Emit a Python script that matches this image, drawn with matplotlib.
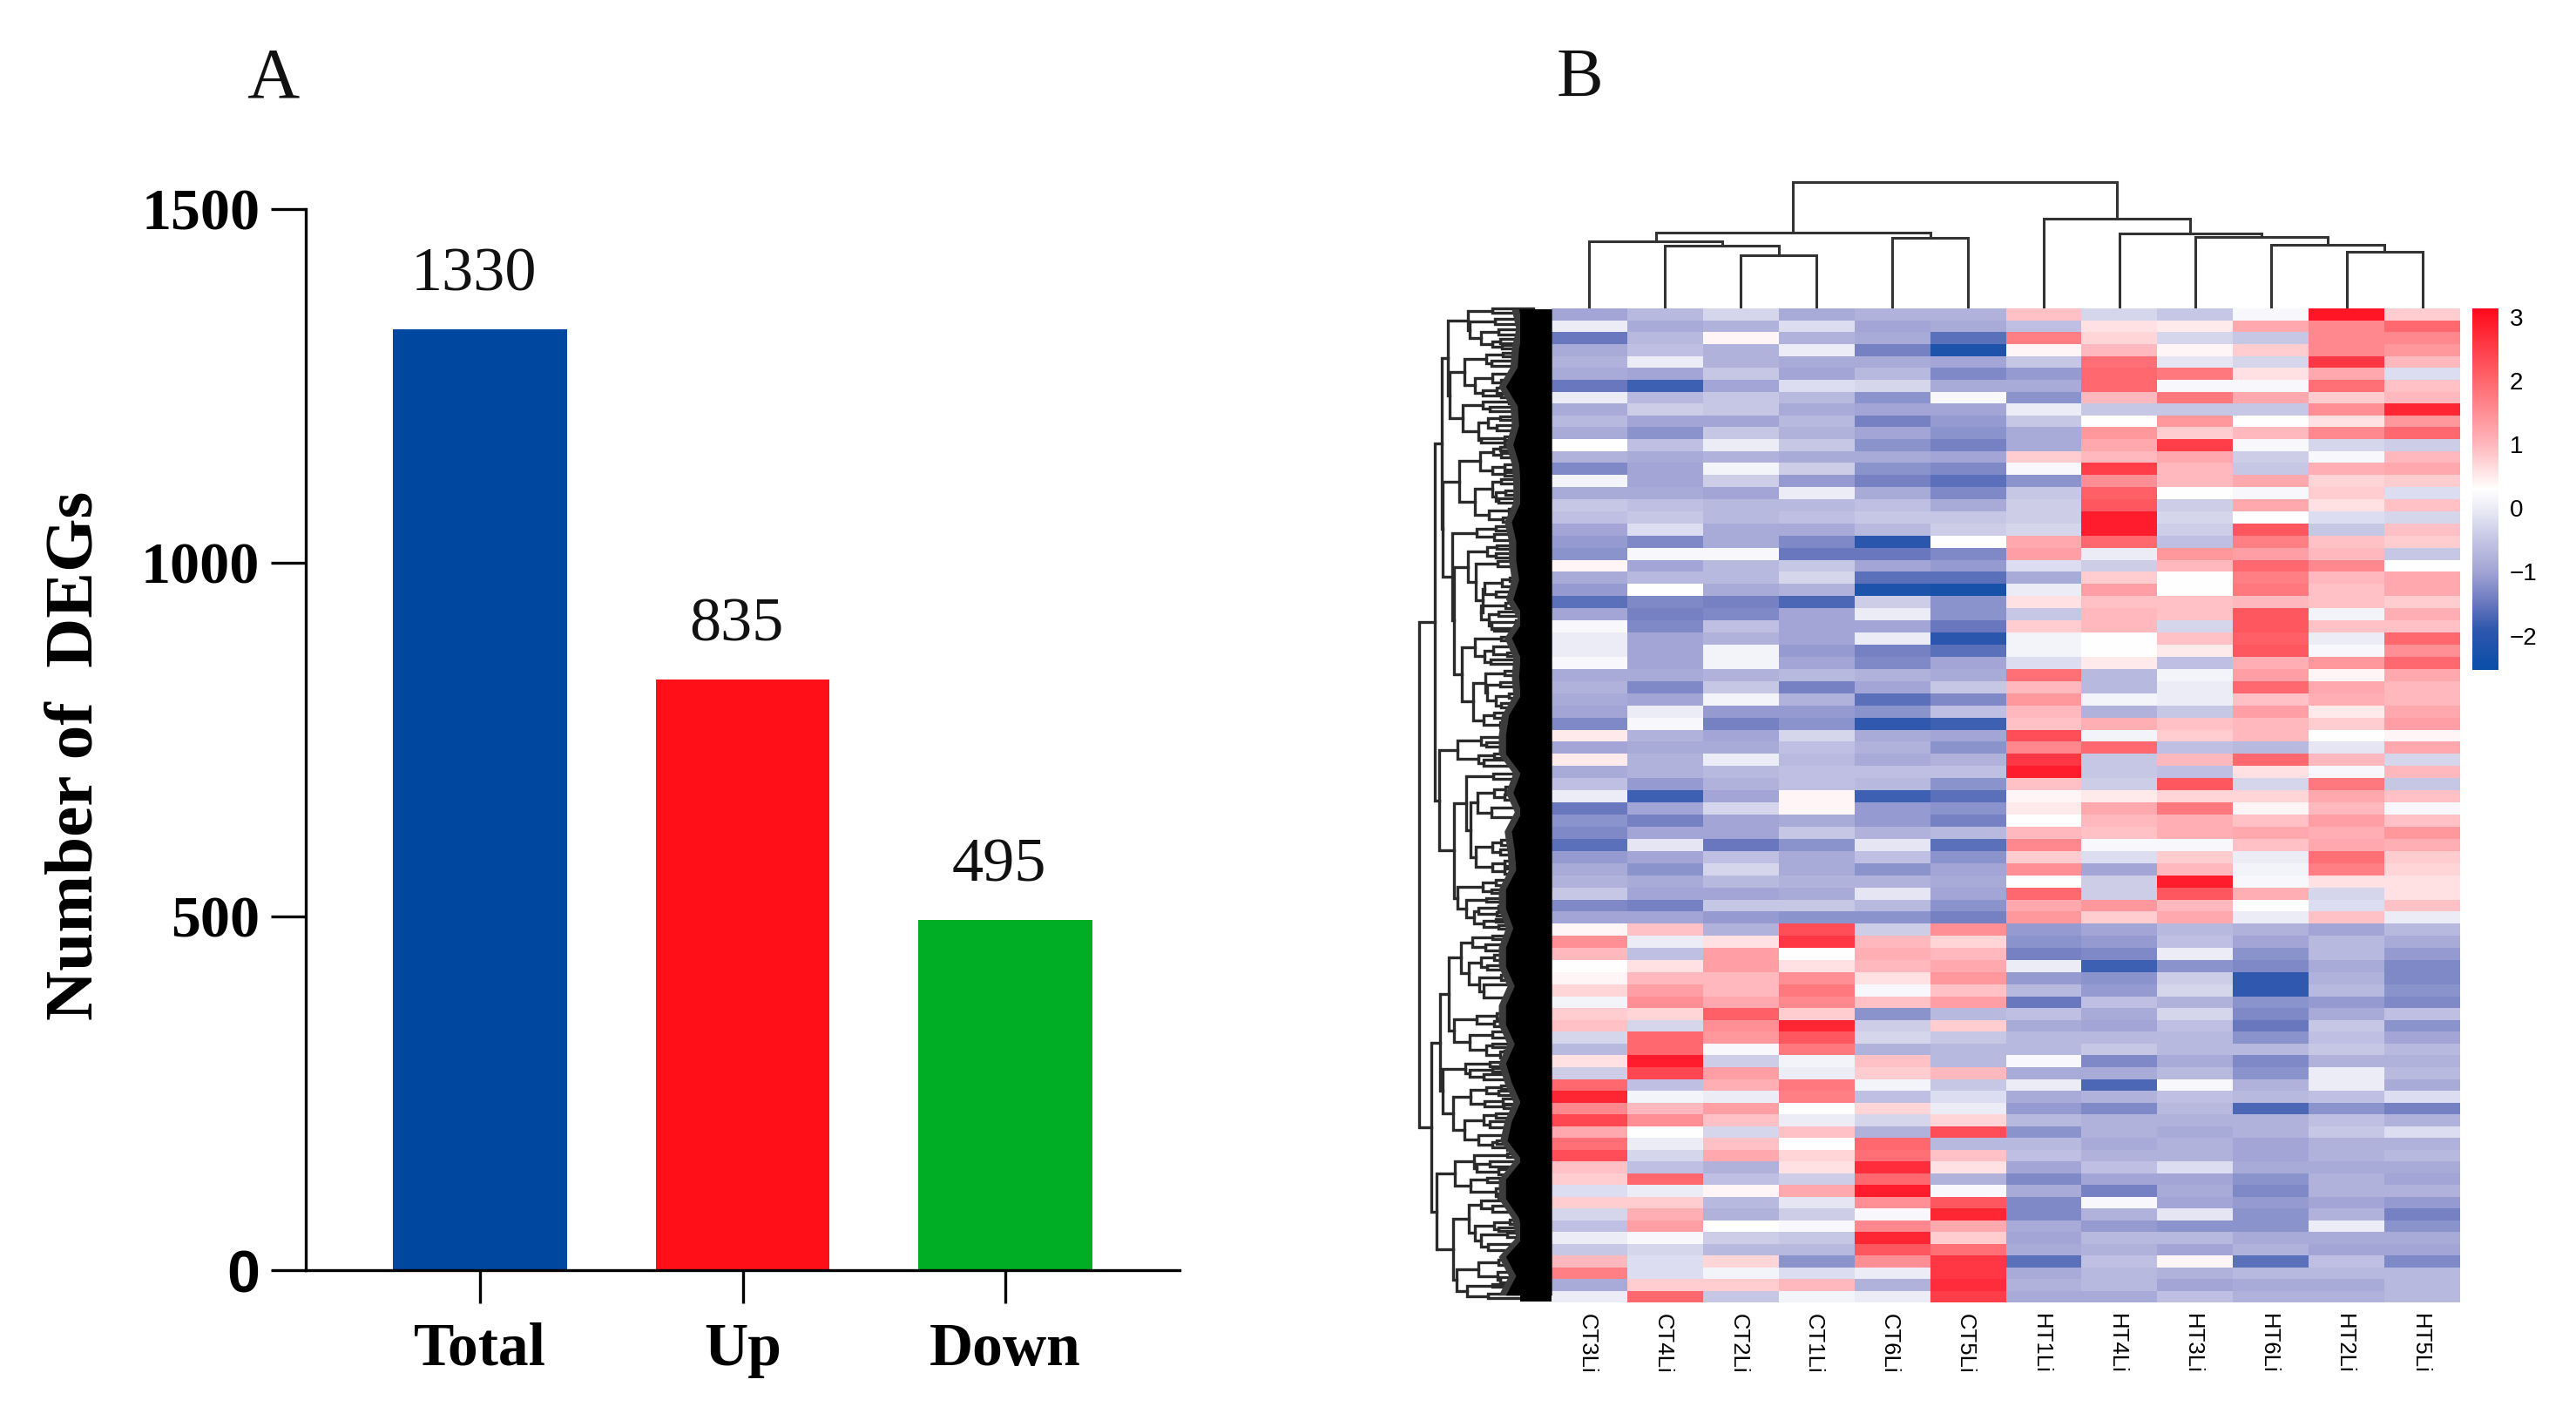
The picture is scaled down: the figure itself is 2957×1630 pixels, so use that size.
import matplotlib
matplotlib.use("Agg")
import matplotlib.pyplot as plt
from matplotlib.colors import LinearSegmentedColormap
from matplotlib.transforms import ScaledTranslation
import numpy as np

W, H = 2957, 1630
SERIF = "Liberation Serif"
SANS = "Liberation Sans"

# ---------- panel A data ----------
categories = ["Total", "Up", "Down"]
degs = [1330, 835, 495]
bar_colors = ["#0047A0", "#FF0F17", "#00AE26"]
y_ticks = [0, 500, 1000, 1500]

# ---------- panel B data ----------
samples = ["CT3Li", "CT4Li", "CT2Li", "CT1Li", "CT6Li", "CT5Li",
           "HT1Li", "HT4Li", "HT3Li", "HT6Li", "HT2Li", "HT5Li"]

CT3 = [-1.0,0.0,-1.5,-0.9,-0.8,-0.9,-1.5,0.0,-0.9,-0.7,-0.9,0.3,-0.8,-1.3,
       0.1,-0.9,-0.5,-0.6,-1.0,-1.1,-1.2,0.4,-0.9,-1.1,-1.6,-1.0,0.2,0.0,
       0.0,0.2,-0.9,-0.8,-0.9,-1.0,-1.3,0.5,-1.0,0.5,-0.9,-0.6,0.0,-1.5,
       -1.2,-1.3,-1.6,-1.1,-0.9,-0.8,-0.5,-1.3,-1.0,0.4,1.5,1.0,0.3,0.4,
       0.7,0.1,0.8,0.9,-0.3,-0.7,0.6,-0.4,2.0,2.8,1.6,2.4,1.2,1.9,
       2.3,0.9,0.8,-0.2,0.8,-0.3,-0.6,0.0,-0.5,1.0,1.7,-0.9,0.0]
CT4 = [-0.7,-0.9,-0.7,-0.6,0.0,-1.0,-1.8,-0.7,-0.4,-1.0,-1.2,-0.6,-0.9,-1.0,
       -1.0,-0.9,-0.6,-0.5,-0.2,-1.3,0.2,-1.0,-0.7,0.3,-1.3,-1.4,-1.3,-1.0,
       -1.0,-1.0,-0.9,-1.3,-1.0,0.0,0.2,-0.8,-0.9,-0.8,-0.8,-1.1,-1.8,-1.0,
       -1.4,-1.0,-0.1,-1.0,-1.2,-0.9,-1.0,-1.4,-1.0,0.9,0.0,-0.6,0.6,1.0,
       1.3,1.5,0.7,-0.3,2.0,2.0,2.9,2.4,-0.6,0.1,1.0,1.5,0.3,0.0,
       -0.3,-0.6,2.0,0.0,0.8,1.1,1.3,0.2,-0.3,-0.2,-0.2,0.8,2.0]
CT2 = [-0.3,-0.8,0.4,-0.8,-0.8,-0.5,-1.0,-0.5,-0.5,-1.0,-0.5,0.0,-0.8,0.1,
       -0.4,-1.0,-0.7,-0.7,-0.9,-0.9,0.2,-0.7,-0.7,-0.9,-1.4,-1.3,-0.6,-0.8,
       0.1,0.1,-0.8,-0.5,0.1,-1.1,-1.4,-1.0,-0.9,0.0,-0.7,-0.8,-1.0,-0.3,
       -1.0,-1.0,-1.5,-0.6,-0.3,-0.7,-1.0,-0.5,-1.1,-0.8,0.6,1.3,1.3,1.0,
       1.0,1.2,2.1,1.5,1.4,0.2,-0.4,1.3,1.1,0.0,1.3,0.9,-0.3,0.9,
       1.2,-0.8,-0.6,0.4,-0.7,-0.8,0.3,-0.4,-0.7,0.7,0.1,0.8,-0.5]
CT1 = [-0.9,-0.2,-0.8,0.0,-0.9,-1.0,-0.2,-0.7,-0.9,-0.7,-0.8,-0.5,-0.9,-0.4,
       -1.1,0.0,-0.7,-0.6,-0.9,-1.3,-1.5,-0.5,-0.3,-0.8,-1.7,-1.0,-1.0,-1.0,
       -1.1,-1.0,-0.7,-1.4,-0.8,-1.1,-1.2,-0.3,-0.6,-0.7,-0.6,-0.6,0.4,0.4,
       -0.9,-0.5,-1.2,-0.9,-0.9,-0.8,-0.9,-0.5,-1.2,2.3,2.6,0.3,0.6,1.5,
       1.8,1.6,0.8,2.8,2.2,1.8,0.1,0.0,1.8,1.7,0.3,0.0,0.9,0.3,
       0.7,0.6,-0.4,1.2,-0.1,-0.4,0.2,-0.5,-0.7,-1.2,-0.2,1.0,0.1]
CT6 = [-0.8,-1.0,-0.9,-1.4,-0.9,-0.7,-0.3,-1.2,-1.0,-1.4,-1.0,-1.2,-0.9,-1.2,
       -1.4,-0.9,-0.6,-0.5,-0.7,-2.0,-1.5,-1.0,-1.6,-2.2,-0.4,0.0,-1.0,0.0,
       -1.4,-1.3,-0.8,-1.0,-1.6,-1.2,-1.9,-0.9,-0.8,-0.9,-0.6,-0.7,-1.8,-1.1,
       -1.1,-0.8,-0.1,-0.6,-1.2,-0.8,-0.1,-0.7,-1.2,-0.4,1.0,1.1,1.0,0.6,
       0.2,0.9,-1.2,-0.4,-0.3,-0.8,0.9,0.8,0.1,-0.6,0.7,-0.3,-0.8,2.0,
       1.9,2.7,2.0,2.9,1.5,0.2,1.6,2.8,2.2,1.5,0.0,-0.8,0.0]
CT5 = [-0.8,-0.9,-1.6,-2.2,-1.0,-1.3,-0.9,0.2,-1.0,-1.1,-1.2,-1.4,-1.0,-1.3,
       -1.6,-1.3,-0.9,-0.5,-0.4,0.3,-1.3,-1.1,-1.6,-2.3,-1.2,-1.2,-1.5,-2.0,
       -1.6,-1.0,-0.9,-0.5,-1.3,-0.6,-1.8,-1.0,-1.2,-0.8,-0.6,-1.2,-1.6,-1.2,
       -1.4,-0.7,-1.6,-1.2,-1.0,-0.9,-1.0,-1.2,-1.4,1.5,0.7,1.0,1.2,1.4,
       0.9,1.3,-0.7,0.8,-0.5,-0.7,-0.7,1.0,-0.5,-0.2,0.0,0.7,2.3,-0.7,
       0.9,0.6,-0.8,0.2,2.2,2.8,1.2,0.8,1.9,2.6,2.6,2.7,2.5]
HT1 = [0.9,-0.6,1.7,0.4,-0.5,-1.1,-0.9,-1.2,0.0,-0.5,-0.9,-0.9,0.8,0.2,
       -1.2,-0.5,-0.4,-0.4,-0.3,1.2,1.3,-0.2,-0.9,0.0,0.6,-0.5,0.8,0.1,
       0.1,-0.2,1.9,1.0,1.4,1.0,0.9,2.3,1.6,2.6,2.9,0.9,0.4,0.5,
       0.3,1.0,1.6,0.8,1.5,0.3,2.0,1.2,1.4,-1.1,-1.2,-1.4,0.0,-1.1,
       -0.7,-1.5,-0.6,-0.9,-0.7,-0.7,0.2,-0.9,0.0,-0.9,-1.1,-0.7,-1.2,-0.7,
       -0.6,-1.0,-1.3,-0.9,-1.3,-1.3,-0.9,-1.0,-0.9,-1.6,-0.9,-0.8,-0.9]
HT4 = [-0.3,0.6,0.7,1.0,1.9,2.0,2.0,1.0,-0.5,0.3,1.4,1.2,1.0,2.5,
       1.5,2.1,2.2,2.9,2.9,2.0,0.0,-0.4,0.8,1.3,0.9,1.0,1.0,0.3,
       0.3,0.5,-0.7,-0.7,0.1,-0.8,1.1,0.1,2.0,-0.5,-0.5,-0.4,0.5,1.2,
       1.0,0.9,0.2,-0.2,-1.0,-0.4,-0.4,1.4,0.8,-1.0,-1.1,-1.3,-1.8,-1.2,
       -1.1,-0.6,-0.9,-1.0,-0.7,-0.5,-1.3,-0.9,-1.7,-0.8,-1.3,-0.8,-0.8,-0.9,
       -0.8,-0.6,-1.0,-1.4,0.2,-0.8,-1.1,-0.7,-0.8,-0.6,-0.7,-0.7,-0.9]
HT3 = [-0.5,0.5,-0.3,0.4,-0.1,1.8,0.2,1.8,-0.5,1.4,0.8,2.5,1.2,1.0,
       1.0,0.3,-0.4,-0.3,-0.4,-0.6,1.4,1.0,0.3,0.3,0.9,0.9,-0.3,0.9,
       0.5,-0.6,0.1,0.0,0.0,-0.5,0.9,0.8,-0.6,1.0,-0.6,2.2,0.7,1.8,
       1.1,1.1,0.2,0.8,1.0,2.9,2.2,1.0,1.2,-0.7,-0.6,0.0,-1.2,-0.4,
       -0.3,-0.8,-0.3,-0.6,-0.7,-0.7,-0.9,-0.7,0.2,-0.6,-0.7,-0.8,-0.9,-0.8,
       -0.8,-0.2,-1.0,-0.9,-1.0,-0.1,-1.2,-0.7,-1.0,0.4,-0.8,-1.0,-0.6]
HT6 = [0.2,1.2,-0.5,0.8,-0.3,0.6,0.2,1.2,-0.5,0.3,1.0,0.2,-0.4,-0.5,
       1.2,0.2,1.2,0.3,2.2,1.7,1.3,2.0,1.7,1.8,1.0,2.2,2.2,2.1,
       2.2,1.1,1.3,2.0,0.9,1.3,1.0,1.0,-0.7,2.0,0.6,-0.3,0.7,0.4,
       0.9,1.2,0.9,0.0,0.1,0.2,1.1,0.3,0.0,-0.8,-1.0,-1.2,-1.3,-1.9,
       -1.9,-1.2,-1.3,-1.5,-1.2,-0.7,-1.3,-1.2,-0.8,-0.7,-1.7,-0.8,-0.8,-1.0,
       -1.0,-0.9,-1.2,-1.3,-1.1,-1.2,-1.2,-0.9,-0.8,-1.6,-0.7,-0.9,-0.8]
HT2 = [3.0,1.6,1.6,1.6,2.6,1.2,1.9,0.8,1.5,0.6,1.6,-0.3,0.2,1.1,
       0.7,0.8,0.6,-0.2,-0.5,0.9,1.0,1.6,1.0,0.9,0.9,0.1,0.9,0.0,
       0.2,1.4,0.4,1.2,1.1,0.5,0.8,0.3,-0.1,1.0,0.2,1.8,1.2,1.0,
       1.3,1.1,1.2,1.9,1.7,0.6,-0.3,-0.2,0.9,-1.0,-0.7,-0.7,-0.9,-0.8,
       -0.7,-1.1,-0.9,-0.5,-0.6,-0.5,-0.8,0.0,0.0,-0.6,-1.2,-0.6,-0.5,-0.8,
       -0.8,-0.9,-0.8,-0.8,-1.0,-0.8,0.0,-0.9,-1.0,-0.6,-0.7,-0.9,-0.8]
HT5 = [0.8,2.0,1.6,1.4,1.0,-0.2,0.9,1.0,2.8,1.4,2.0,-0.4,1.0,1.2,
       0.8,-0.2,0.9,-0.3,0.9,0.8,-0.5,0.3,1.2,1.2,0.8,1.1,0.9,2.0,
       1.5,2.0,1.2,1.0,1.0,1.2,1.3,0.4,1.2,-0.3,1.0,-0.5,0.9,0.2,
       0.9,1.4,1.1,0.8,0.7,0.6,0.6,0.9,0.0,-0.7,-0.9,-1.1,-1.3,-1.3,
       -1.2,-1.3,-0.6,-1.2,-1.0,-0.7,-0.8,-0.7,-0.9,-0.2,-1.4,-0.8,-0.2,-0.8,
       -0.7,-0.9,-1.0,-0.8,-1.1,-1.4,-1.2,-0.9,-1.0,-1.3,-0.7,-0.7,-0.7]
heat_columns = [CT3, CT4, CT2, CT1, CT6, CT5, HT1, HT4, HT3, HT6, HT2, HT5]
rows_per_band = [14, 14, 14, 14, 14, 13]
band_edges = [0, 191, 386, 581, 776, 966, 1141]   # relative height of each read band

cbar_ticks = [-2, -1, 0, 1, 2, 3]
vmin, vmax = -2.54, 3.135
cmap_points = [(-2.54, "#0a4ea8"), (-1.9, "#3058ae"), (-1.5, "#6a78bf"), (-1.0, "#a2a5d5"),
               (-0.5, "#c5c6e5"), (0.0, "#ececf7"), (0.3, "#ffffff"), (1.0, "#ffb8bd"),
               (2.0, "#ff686e"), (3.135, "#ff0a1c")]

# column dendrogram: nested [height, left, right]; leaves are column indices
col_tree = [145,
            [87, [77, 0, [72, 1, [61, 2, 3]]], [81, 4, 5]],
            [103, 6, [86, 7, [82, 8, [73, 9, [65, 10, 11]]]]]]

# row dendrogram: nested [distance, upper, lower]; leaves are row positions
row_tree = [28,
  [80,
    [105,
      [127,
        [195, [278,12,24], [200,[288,44,60],[240,[300,75,92],[278,[305,105,120],[312,124,135]]]]],
        [132,
          [182, [258,[315,148,160],[275,172,188]], [218,[278,[340,205,220],[310,232,248]],[245,[295,258,272],[310,276,286]]]],
          [178, [245,[335,295,305],[270,315,330]], [230,[265,[305,345,358],[295,372,388]],[240,[320,408,418],[320,422,432]]]]]],
      [108,
        [165, [238,[282,[305,440,452],[310,460,472]],[280,[320,495,510],[320,518,530]]],
              [218,[278,[310,542,555],[290,[325,575,590],[300,600,615]]],[268,[335,632,645],[315,660,672]]]],
        [140,
          [225,[290,688,700],[285,710,730]],
          [148,
            [195,[260,[295,745,758],[290,770,785]],
                 [222,[298,795,812],[245,[252,[312,[340,845,858],[345,868,880]],[290,890,905]],
                      [240,[325,925,940],[268,[300,952,965],[275,[360,978,992],[285,1002,1012]]]]]]],
            [175,[218,[310,1030,1040],[252,[282,[345,1052,1068],[330,1078,1090]],[272,1100,1115]]],
                 [212,[255,[320,1135,1150],[260,[305,1170,1185],[290,[335,1205,1220],[310,1235,1250]]]],
                      [250,[285,1265,1282],[305,1295,1312]]]]]]]],
    [95,
      [160,[240,[310,1335,1348],[258,1358,1370]],[230,[285,1392,1405],[250,1412,1430]]],
      [148,
        [190,[282,1455,1472],[205,[228,[285,[325,1495,1510],[320,1520,1535]],[275,1560,1590]],
              [222,[280,[310,1660,1675],[305,1690,1705]],[278,[320,1725,1740],[320,1750,1765]]]]],
        [160,[245,[290,1785,1800],[275,1815,1825]],
             [190,[258,1840,1852],[215,[232,[300,1865,1878],[295,1885,1895]],[250,[290,1905,1915],[300,1925,1935]]]]]]]],
  [70,
    [100,
      [130,
        [170,[210,[280,1958,1968],[255,1983,2003]],[198,[240,[285,2018,2033],[260,2048,2063]],[235,[310,2078,2095],[248,2110,2150]]]],
        [148,[225,[295,2198,2213],[285,2223,2238]],[200,[280,[325,2248,2263],[330,2268,2278]],[258,[280,2293,2303],[305,[320,2313,2323],[340,2330,2343]]]]]],
      [108,
        [185,[270,2348,2363],[200,[280,2368,2380],[250,2388,2403]]],
        [143,[205,[258,[310,2423,2433],[300,2438,2453]],[252,[315,2463,2478],[318,2483,2493]]],
             [183,[248,[290,2508,2523],[270,2533,2553]],[232,[320,2568,2583],[280,[295,2593,2603],[330,2608,2623]]]]]]],
    [88,
      [150,[215,[330,2633,2643],[225,[270,2658,2673],[300,2683,2698]]],[205,[260,2708,2723],[290,[320,2733,2748],[300,2758,2773]]]],
      [145,
        [198,[240,[320,2773,2786],[280,2796,2813]],[220,[285,[340,2838,2853],[300,2863,2873]],[240,[330,2878,2893],[265,2913,2933]]]],
        [155,[232,[300,2963,2978],[298,[350,2993,3008],[305,3018,3033]]],[192,[280,3038,3048],[265,3068,3083]]]]]]]

# where the black mass of leaf branches begins, one value per 60 tree units
leaf_edge = [370,385,370,365,315,365,370,350,370,375,375,345,360,360,370,350,390,345,375,370,
             375,335,320,295,375,350,380,345,355,360,295,295,350,320,320,355,300,320,355,300,
             345,375,345,330,380,300,320,370,385,320,360,320]

# ---------- helpers ----------
fig = plt.figure(figsize=(W / 100, H / 100), dpi=100, facecolor="white")

def axes_px(left, top, right, bottom, **kw):
    return fig.add_axes([left / W, 1 - bottom / H, (right - left) / W, (bottom - top) / H], **kw)

def text_px(x, y, s, **kw):
    fig.text(x / W, 1 - y / H, s, **kw)

# ---------- panel A ----------
ax = axes_px(351, 240, 1354, 1458)
xpos = np.arange(len(categories))
ax.bar(xpos, degs, width=0.663, color=bar_colors, zorder=2)
ax.set_xlim(-0.663, 2.663)
ax.set_ylim(0, 1500)
for s in ("top", "right"):
    ax.spines[s].set_visible(False)
for s in ("left", "bottom"):
    ax.spines[s].set_linewidth(2.4)
ax.set_xticks(xpos)
ax.set_xticklabels(categories, fontfamily=SERIF, fontweight="bold", fontsize=50)
ax.set_yticks(y_ticks)
ax.set_yticklabels([str(v) for v in y_ticks], fontfamily=SERIF, fontweight="bold", fontsize=49)
ax.get_yticklabels()[0].set_fontfamily(SANS)
ax.tick_params(axis="y", length=29, width=2.4, pad=9)
ax.tick_params(axis="x", length=27, width=2.4, pad=16)
ax.set_ylabel("Number of  DEGs", fontfamily=SERIF, fontweight="bold", fontsize=57, labelpad=28)
ax.yaxis.label.set_y(0.485)
for x, v in zip(xpos, degs):
    ax.annotate(str(v), (x, v), xytext=(-5, 21), textcoords="offset points", ha="center", va="bottom",
                fontfamily=SERIF, fontsize=52, color="#111111")

text_px(283, 111, "A", fontfamily=SERIF, fontsize=60, color="#111111")
text_px(1787, 111, "B", fontfamily=SERIF, fontsize=58, color="#111111")

# ---------- heatmap ----------
span = vmax - vmin
cmap = LinearSegmentedColormap.from_list("deg", [((v - vmin) / span, c) for v, c in cmap_points], N=256)
matrix = np.array(heat_columns).T
row_edges = np.concatenate([np.linspace(band_edges[i], band_edges[i + 1], n, endpoint=False)
                            for i, n in enumerate(rows_per_band)] + [[band_edges[-1]]])
hax = axes_px(1781, 354, 2824, 1495)
hax.pcolormesh(np.arange(len(samples) + 1), row_edges, matrix, cmap=cmap, vmin=vmin, vmax=vmax,
               shading="flat", antialiased=False)
hax.set_ylim(band_edges[-1], 0)
for s in hax.spines.values():
    s.set_visible(False)
hax.set_yticks([])
hax.set_xticks(np.arange(len(samples)) + 0.5)
hax.set_xticklabels(samples, rotation=270, fontfamily=SANS, fontsize=18.5, ha="center", va="top")
hax.tick_params(axis="x", length=0, pad=9)
shift = ScaledTranslation(-3 / 100, 0, fig.dpi_scale_trans)
for lab in hax.get_xticklabels():
    lab.set_transform(lab.get_transform() + shift)

# column dendrogram
dax = axes_px(1781, 205, 2824, 354)
dax.set_xlim(0, len(samples))
dax.set_ylim(0, 149)
dax.axis("off")
LINE = "#333333"

def draw_col(node):
    if not isinstance(node, list):
        return node + 0.5, 0
    h, a, b = node
    xa, ha = draw_col(a)
    xb, hb = draw_col(b)
    dax.plot([xa, xa, xb, xb], [ha, h, h, hb], color=LINE, lw=2.2, solid_joinstyle="miter")
    return (xa + xb) / 2, h

draw_col(col_tree)

# row dendrogram
rax = axes_px(1620, 350, 1781, 1510)
rax.set_xlim(0, 483)
rax.set_ylim(3136, 0)
rax.axis("off")
edge_y = 13 + np.arange(len(leaf_edge)) * 60
edge = np.maximum(leaf_edge, 325)
rax.fill_betweenx(edge_y, edge - 25, 483, color="#3c3c3c", lw=0, zorder=3)
rax.fill_betweenx(edge_y, edge, 483, color="black", lw=0, zorder=4)
rax.fill_between([375, 483], 13, 3093, color="black", lw=0, zorder=4)

def draw_row(node):
    if not isinstance(node, list):
        return 420, node
    d, a, b = node
    xa, ya = draw_row(a)
    xb, yb = draw_row(b)
    rax.plot([xa, d, d, xb], [ya, ya, yb, yb], color="#2a2a2a", lw=2.4, solid_joinstyle="miter", zorder=2)
    return d, (ya + yb) / 2

draw_row(row_tree)

# colour bar
cax = axes_px(2838, 354, 2868, 769)
grad = np.linspace(vmax, vmin, 256)[:, None]
cax.imshow(grad, aspect="auto", cmap=cmap, vmin=vmin, vmax=vmax, extent=(0, 1, vmin, vmax))
for s in cax.spines.values():
    s.set_visible(False)
cax.set_xticks([])
cax.yaxis.tick_right()
cax.set_yticks(cbar_ticks)
cax.set_yticklabels([str(v).replace("-", "\u2212") for v in cbar_ticks], fontfamily=SANS, fontsize=20)
cax.tick_params(axis="y", length=0, pad=9)

fig.savefig("out.png", dpi=100, facecolor="white")
